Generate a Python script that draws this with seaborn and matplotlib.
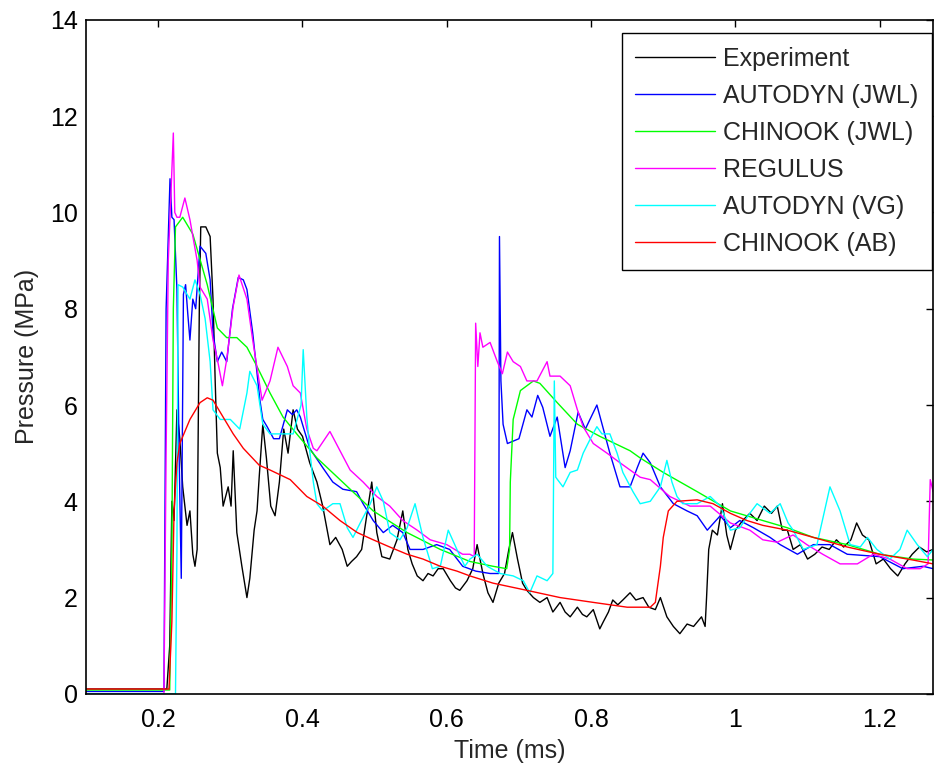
import numpy as np
import pandas as pd
import seaborn as sns
import matplotlib.pyplot as plt
from matplotlib.ticker import FuncFormatter

# series names and colours
names = ['Experiment', 'AUTODYN (JWL)', 'CHINOOK (JWL)', 'REGULUS', 'AUTODYN (VG)', 'CHINOOK (AB)']
colors = ['#000000', '#0000ff', '#00ff00', '#ff00ff', '#00ffff', '#ff0000']

# values (time in ms, pressure in MPa)
exp_t = [0.10, 0.212, 0.216, 0.219, 0.222, 0.226, 0.230, 0.234, 0.240, 0.244, 0.248, 0.251,
         0.254, 0.257, 0.259, 0.262, 0.266, 0.272, 0.276, 0.279, 0.282, 0.286, 0.290, 0.297,
         0.301, 0.304, 0.309, 0.316, 0.323, 0.327, 0.333, 0.337, 0.340, 0.345, 0.350, 0.356,
         0.362, 0.368, 0.374, 0.380, 0.387, 0.393, 0.400, 0.410, 0.420, 0.428, 0.438, 0.446,
         0.455, 0.462, 0.468, 0.475, 0.482, 0.490, 0.496, 0.503, 0.510, 0.521, 0.531, 0.539,
         0.546, 0.552, 0.559, 0.567, 0.574, 0.581, 0.588, 0.595, 0.605, 0.612, 0.618, 0.628,
         0.636, 0.642, 0.650, 0.657, 0.664, 0.672, 0.680, 0.686, 0.691, 0.698, 0.705, 0.711,
         0.720, 0.729, 0.739, 0.747, 0.757, 0.764, 0.771, 0.781, 0.788, 0.794, 0.803, 0.812,
         0.817, 0.824, 0.830, 0.837, 0.844, 0.854, 0.862, 0.872, 0.880, 0.889, 0.896, 0.905,
         0.914, 0.923, 0.933, 0.942, 0.953, 0.958, 0.960, 0.963, 0.968, 0.975, 0.982, 0.988,
         0.993, 1.000, 1.010, 1.020, 1.030, 1.040, 1.050, 1.058, 1.065, 1.072, 1.080, 1.090,
         1.100, 1.110, 1.120, 1.130, 1.140, 1.150, 1.160, 1.168, 1.176, 1.185, 1.195, 1.205,
         1.215, 1.225, 1.235, 1.245, 1.255, 1.265, 1.274]
exp_p = [0.10, 0.10, 1.0, 4.0, 3.6, 5.9, 5.3, 4.3, 3.5, 3.8, 2.9, 2.65,
         3.0, 8.0, 9.7, 9.7, 9.7, 9.5, 8.2, 6.5, 5.0, 4.7, 3.9, 4.3,
         3.9, 5.05, 3.35, 2.65, 2.0, 2.4, 3.4, 3.8, 4.5, 5.6, 4.9, 3.9,
         3.7, 4.4, 5.5, 5.0, 5.9, 5.5, 5.35, 4.8, 4.4, 3.9, 3.1, 3.25,
         3.0, 2.65, 2.75, 2.85, 3.0, 3.8, 4.4, 3.35, 2.85, 2.8, 3.2, 3.8,
         3.0, 2.7, 2.45, 2.35, 2.5, 2.45, 2.6, 2.6, 2.35, 2.2, 2.15, 2.35,
         2.6, 3.1, 2.5, 2.1, 1.9, 2.3, 2.5, 3.0, 3.35, 2.8, 2.3, 2.15,
         2.0, 1.9, 2.0, 1.7, 1.9, 1.7, 1.6, 1.8, 1.65, 1.6, 1.75, 1.35,
         1.5, 1.7, 1.95, 1.85, 1.95, 2.1, 1.95, 2.0, 1.8, 1.75, 2.0, 1.6,
         1.4, 1.25, 1.45, 1.4, 1.6, 1.4, 2.0, 3.0, 3.4, 3.3, 3.95, 3.3,
         3.0, 3.4, 3.6, 3.75, 3.6, 3.9, 3.75, 3.9, 3.4, 3.4, 3.0, 3.1,
         2.8, 2.9, 3.05, 3.0, 3.2, 3.05, 3.2, 3.55, 3.3, 3.2, 2.7, 2.8,
         2.6, 2.45, 2.7, 2.9, 3.05, 2.95, 3.0]

ajwl_t = [0.10, 0.208, 0.211, 0.2164, 0.219, 0.222, 0.226, 0.229, 0.232, 0.235, 0.238, 0.241,
          0.244, 0.248, 0.252, 0.258, 0.266, 0.272, 0.276, 0.282, 0.288, 0.295, 0.303, 0.311,
          0.318, 0.323, 0.331, 0.341, 0.345, 0.351, 0.360, 0.368, 0.379, 0.386, 0.392, 0.397,
          0.410, 0.428, 0.442, 0.456, 0.475, 0.484, 0.498, 0.512, 0.525, 0.539, 0.549, 0.567,
          0.586, 0.604, 0.622, 0.640, 0.660, 0.672, 0.673, 0.675, 0.678, 0.684, 0.700, 0.711,
          0.718, 0.726, 0.733, 0.743, 0.753, 0.764, 0.771, 0.782, 0.792, 0.808, 0.817, 0.826,
          0.840, 0.854, 0.864, 0.872, 0.882, 0.896, 0.914, 0.933, 0.947, 0.961, 0.979, 0.993,
          1.006, 1.025, 1.048, 1.062, 1.086, 1.108, 1.131, 1.155, 1.200, 1.232, 1.260, 1.274]
ajwl_p = [0.05, 0.05, 8.0, 10.7, 9.9, 9.85, 8.4, 5.0, 2.4, 8.3, 8.5, 7.9,
          7.35, 8.2, 8.0, 9.3, 9.15, 8.6, 7.5, 6.9, 7.1, 6.9, 8.0, 8.65,
          8.6, 8.4, 7.5, 6.1, 5.7, 5.55, 5.3, 5.3, 5.9, 5.8, 5.9, 5.75,
          5.1, 4.7, 4.4, 4.25, 4.2, 3.95, 3.6, 3.35, 3.5, 3.35, 3.0, 3.0,
          3.1, 3.0, 2.65, 2.55, 2.5, 2.5, 9.5, 6.5, 5.6, 5.2, 5.3, 5.9,
          5.75, 6.2, 5.95, 5.35, 5.75, 4.7, 5.05, 5.85, 5.5, 6.0, 5.5, 5.0,
          4.3, 4.3, 4.7, 5.0, 4.8, 4.3, 3.95, 3.8, 3.7, 3.4, 3.7, 3.45,
          3.6, 3.45, 3.25, 3.1, 2.9, 3.1, 3.1, 2.9, 2.85, 2.6, 2.65, 2.6]

cjwl_t = [0.10, 0.216, 0.219, 0.221, 0.224, 0.234, 0.248, 0.268, 0.282, 0.295, 0.309, 0.323,
          0.337, 0.355, 0.373, 0.392, 0.420, 0.452, 0.498, 0.545, 0.591, 0.632, 0.664, 0.683,
          0.687, 0.688, 0.692, 0.702, 0.720, 0.729, 0.753, 0.781, 0.812, 0.840, 0.854, 0.868,
          0.900, 0.947, 0.993, 1.038, 1.072, 1.108, 1.155, 1.200, 1.246, 1.274]
cjwl_p = [0.08, 0.08, 3.0, 8.0, 9.7, 9.9, 9.55, 8.5, 7.6, 7.4, 7.4, 7.2,
          6.8, 6.25, 5.75, 5.4, 4.9, 4.45, 3.8, 3.35, 3.0, 2.75, 2.65, 2.6,
          3.0, 4.4, 5.7, 6.3, 6.5, 6.45, 6.05, 5.6, 5.35, 5.15, 5.05, 4.9,
          4.6, 4.2, 3.8, 3.6, 3.45, 3.25, 3.1, 2.9, 2.8, 2.78]

reg_t = [0.10, 0.208, 0.211, 0.214, 0.218, 0.221, 0.223, 0.226, 0.230, 0.237, 0.244, 0.254,
         0.258, 0.268, 0.276, 0.282, 0.289, 0.295, 0.304, 0.312, 0.323, 0.331, 0.344, 0.355,
         0.366, 0.379, 0.387, 0.397, 0.406, 0.415, 0.420, 0.438, 0.452, 0.466, 0.484, 0.503,
         0.521, 0.539, 0.559, 0.577, 0.600, 0.622, 0.632, 0.638, 0.640, 0.643, 0.646, 0.650,
         0.660, 0.670, 0.677, 0.684, 0.692, 0.702, 0.711, 0.725, 0.739, 0.743, 0.757, 0.771,
         0.781, 0.789, 0.803, 0.822, 0.840, 0.868, 0.882, 0.909, 0.937, 0.965, 0.993, 1.020,
         1.038, 1.058, 1.072, 1.080, 1.099, 1.121, 1.145, 1.169, 1.191, 1.214, 1.238, 1.256,
         1.267, 1.270, 1.274]
reg_p = [0.0, 0.0, 5.0, 9.0, 10.5, 11.65, 10.0, 9.9, 9.9, 10.3, 9.85, 9.0,
         8.45, 8.2, 7.35, 6.95, 6.4, 6.95, 8.05, 8.7, 8.2, 7.35, 6.1, 6.5,
         7.2, 6.8, 6.4, 6.25, 5.5, 5.1, 5.05, 5.45, 5.05, 4.65, 4.4, 4.1,
         3.9, 3.6, 3.4, 3.2, 3.1, 2.9, 2.9, 2.85, 7.7, 6.8, 7.5, 7.2,
         7.3, 6.9, 6.65, 7.1, 6.9, 6.8, 6.5, 6.5, 6.9, 6.6, 6.6, 6.4,
         5.9, 5.55, 5.2, 5.0, 4.8, 4.5, 4.45, 4.1, 3.9, 3.9, 3.55, 3.4,
         3.2, 3.15, 3.25, 3.3, 3.1, 2.9, 2.7, 2.7, 2.9, 2.8, 2.6, 2.6,
         2.7, 4.45, 4.2]

avg_t = [0.10, 0.224, 0.226, 0.2275, 0.234, 0.244, 0.251, 0.258, 0.265, 0.272, 0.276, 0.286,
         0.300, 0.313, 0.323, 0.327, 0.337, 0.345, 0.355, 0.369, 0.387, 0.398, 0.401, 0.406,
         0.410, 0.415, 0.420, 0.428, 0.442, 0.452, 0.462, 0.470, 0.480, 0.494, 0.503, 0.512,
         0.521, 0.535, 0.545, 0.556, 0.567, 0.580, 0.591, 0.602, 0.614, 0.625, 0.632, 0.642,
         0.656, 0.674, 0.692, 0.706, 0.715, 0.725, 0.739, 0.747, 0.749, 0.751, 0.761, 0.771,
         0.781, 0.789, 0.799, 0.808, 0.815, 0.826, 0.836, 0.844, 0.858, 0.868, 0.882, 0.896,
         0.905, 0.912, 0.919, 0.927, 0.947, 0.965, 0.979, 0.993, 1.006, 1.020, 1.030, 1.048,
         1.062, 1.073, 1.080, 1.094, 1.113, 1.122, 1.131, 1.145, 1.159, 1.173, 1.183, 1.196,
         1.214, 1.228, 1.238, 1.252, 1.266, 1.274]
avg_p = [0.0, 0.0, 3.0, 8.5, 8.45, 8.2, 8.6, 8.3, 7.8, 6.9, 5.9, 5.7,
         5.7, 5.5, 6.25, 6.7, 6.4, 5.6, 5.4, 5.4, 5.4, 6.0, 7.15, 5.75,
         5.05, 4.4, 3.95, 3.8, 3.95, 3.95, 3.45, 3.25, 3.55, 3.95, 4.3, 4.0,
         3.35, 3.2, 3.45, 3.95, 3.25, 2.6, 2.65, 3.4, 3.0, 2.65, 2.8, 2.9,
         2.65, 2.5, 2.45, 2.35, 2.1, 2.45, 2.35, 2.5, 6.5, 4.5, 4.3, 4.6,
         4.65, 5.0, 5.3, 5.55, 5.4, 5.4, 5.0, 4.6, 4.2, 3.95, 4.0, 4.3,
         4.85, 4.4, 4.1, 3.95, 3.95, 4.1, 3.9, 3.4, 3.45, 3.75, 3.95, 3.75,
         3.95, 3.55, 3.4, 3.0, 3.1, 3.7, 4.3, 3.8, 3.1, 3.05, 3.25, 3.0,
         2.8, 3.0, 3.4, 3.1, 2.85, 3.0]

cab_t = [0.10, 0.215, 0.219, 0.222, 0.226, 0.230, 0.244, 0.258, 0.268, 0.276, 0.290, 0.304,
         0.318, 0.340, 0.355, 0.383, 0.406, 0.428, 0.452, 0.476, 0.498, 0.521, 0.545, 0.567,
         0.591, 0.614, 0.632, 0.664, 0.711, 0.757, 0.803, 0.850, 0.882, 0.889, 0.896, 0.900,
         0.907, 0.919, 0.947, 0.969, 0.993, 1.016, 1.038, 1.072, 1.108, 1.155, 1.200, 1.246, 1.274]
cab_p = [0.10, 0.10, 1.5, 3.8, 4.8, 5.2, 5.7, 6.05, 6.15, 6.1, 5.75, 5.4,
         5.1, 4.75, 4.65, 4.45, 4.1, 3.9, 3.6, 3.35, 3.2, 3.05, 2.9, 2.8,
         2.65, 2.55, 2.45, 2.3, 2.15, 2.0, 1.9, 1.8, 1.8, 1.9, 2.65, 3.25,
         3.8, 4.0, 4.03, 3.95, 3.75, 3.6, 3.5, 3.4, 3.25, 3.05, 2.9, 2.78, 2.7]

series_t = [exp_t, ajwl_t, cjwl_t, reg_t, avg_t, cab_t]
series_p = [exp_p, ajwl_p, cjwl_p, reg_p, avg_p, cab_p]

frames = []
for name, t, p in zip(names, series_t, series_p):
    frames.append(pd.DataFrame({'Time': t, 'Pressure': p, 'Series': name}))
df = pd.concat(frames, ignore_index=True)

sns.set_style('white')
plt.rcParams['font.family'] = ['Liberation Sans', 'DejaVu Sans']

fig = plt.figure(figsize=(9.35, 7.65), dpi=100)
ax = fig.add_axes([0.092, 0.093, 0.906, 0.881])

sns.lineplot(data=df, x='Time', y='Pressure', hue='Series', hue_order=names,
             palette=dict(zip(names, colors)), estimator=None, sort=False,
             linewidth=1.0, ax=ax)

ax.set_xlim(0.1, 1.274)
ax.set_ylim(0, 14)
ax.set_xticks([0.2, 0.4, 0.6, 0.8, 1.0, 1.2])
ax.set_yticks(range(0, 15, 2))
ax.xaxis.set_major_formatter(FuncFormatter(lambda v, pos: '%g' % v))
ax.tick_params(direction='in', length=5, width=1, top=True, right=True,
               labelsize=18, colors='black')
ax.tick_params(axis='x', pad=10)
ax.tick_params(axis='y', pad=6)
for sp in ax.spines.values():
    sp.set_color('black')
    sp.set_linewidth(1.2)

ax.set_xlabel('Time (ms)', fontsize=18, labelpad=5)
ax.set_ylabel('Pressure (MPa)', fontsize=18, labelpad=8)

leg = ax.legend(loc='upper right', bbox_to_anchor=(0.9985, 0.9805), fontsize=18,
                frameon=True, fancybox=False, framealpha=1, edgecolor='black',
                handlelength=3.2, handletextpad=0.3, labelspacing=0.52, borderpad=0.55,
                borderaxespad=0)
leg.get_frame().set_linewidth(1.0)

fig.savefig('out.png', dpi=100)
